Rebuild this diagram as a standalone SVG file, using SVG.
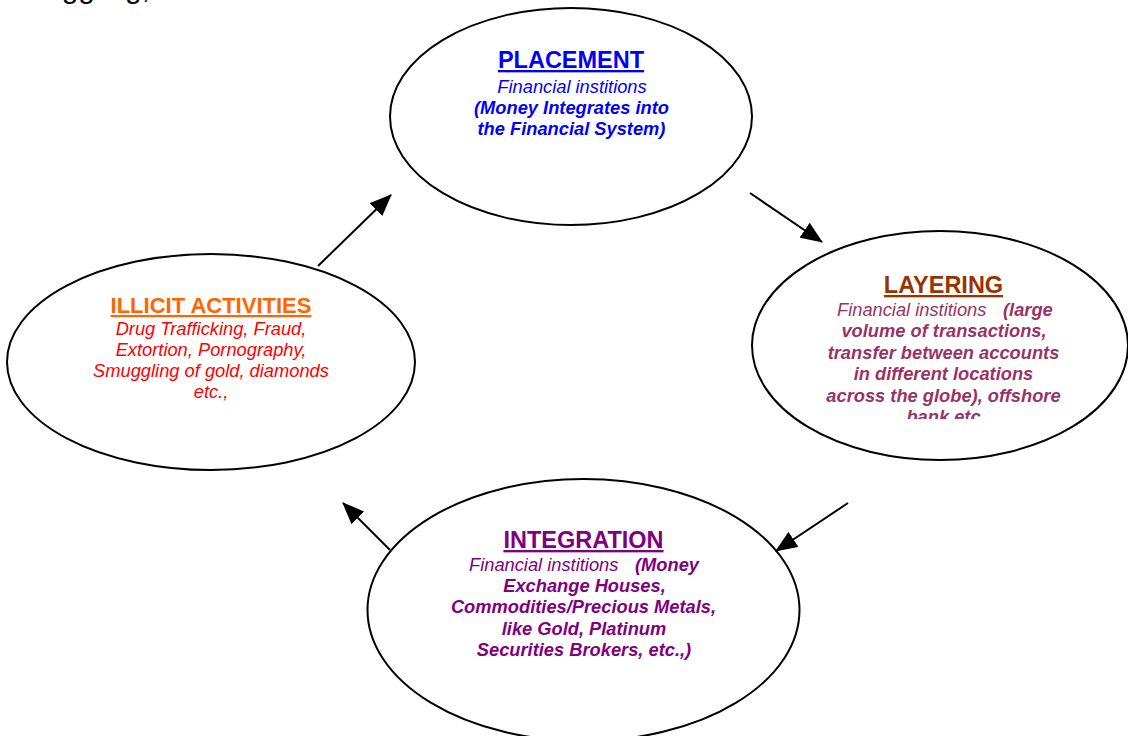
<svg xmlns="http://www.w3.org/2000/svg" width="1128" height="736" viewBox="0 0 1128 736">
<style>
  text { font-family: "Liberation Sans", Arial, sans-serif; }
  .node { fill: #ffffff; stroke: #000000; stroke-width: 2; }
  .title { font-size: 23.5px; font-weight: bold; text-decoration: underline; text-anchor: middle; }
  .body { font-size: 18.3px; font-style: italic; }
  .b { font-weight: bold; }
  .mid { text-anchor: middle; }
  .conn { stroke: #000000; stroke-width: 2; fill: none; marker-end: url(#arrow); }
</style>
<defs>
  <marker id="arrow" markerUnits="userSpaceOnUse" markerWidth="22" markerHeight="18" refX="21" refY="9" orient="auto">
    <path d="M0,0 L22,9 L0,18 Z" fill="#000000"/>
  </marker>
  <clipPath id="layerClip">
    <rect x="750" y="230" width="378" height="189"/>
  </clipPath>
</defs>
<rect x="0" y="0" width="1128" height="736" fill="#ffffff"/>
<text x="0" y="-2" style="font-size:30px">Smuggling,</text>

<g id="placement">
  <ellipse class="node" cx="571" cy="116.5" rx="181" ry="108.5"/>
  <text class="title" x="571" y="68" fill="#0000FF">PLACEMENT</text>
  <text class="body mid" x="572" y="93" fill="#0000FF">Financial institions</text>
  <text class="body b mid" x="571.5" y="114" fill="#0000FF">(Money Integrates into</text>
  <text class="body b mid" x="571.5" y="135" fill="#0000FF">the Financial System)</text>
</g>

<g id="layering">
  <ellipse class="node" cx="940" cy="345.5" rx="188" ry="114.5"/>
  <text class="title" x="943.5" y="293" fill="#993300">LAYERING</text>
  <g clip-path="url(#layerClip)" fill="#993366">
    <text class="body" x="837" y="316">Financial institions<tspan class="b" x="1003">(large</tspan></text>
    <text class="body b mid" x="944" y="337">volume of transactions,</text>
    <text class="body b mid" x="943.5" y="359">transfer between accounts</text>
    <text class="body b mid" x="943.5" y="380">in different locations</text>
    <text class="body b mid" x="943.5" y="402">across the globe), offshore</text>
    <text class="body b mid" x="943.5" y="423">bank etc</text>
  </g>
</g>

<g id="illicit">
  <ellipse class="node" cx="211" cy="362" rx="204" ry="108"/>
  <text class="title" x="211" y="313" fill="#FF6600" style="font-size:22px">ILLICIT ACTIVITIES</text>
  <text class="body mid" x="211" y="335" fill="#FF0000">Drug Trafficking, Fraud,</text>
  <text class="body mid" x="211" y="356" fill="#FF0000">Extortion, Pornography,</text>
  <text class="body mid" x="211" y="377" fill="#FF0000">Smuggling of gold, diamonds</text>
  <text class="body mid" x="211" y="398" fill="#FF0000">etc.,</text>
</g>

<g id="integration">
  <ellipse class="node" cx="583.5" cy="610" rx="216" ry="131"/>
  <text class="title" x="583.5" y="548" fill="#800080">INTEGRATION</text>
  <text class="body" x="469" y="571" fill="#800080">Financial institions<tspan class="b" x="635">(Money</tspan></text>
  <text class="body b mid" x="584.5" y="592" fill="#800080">Exchange Houses,</text>
  <text class="body b mid" x="583.5" y="613" fill="#800080">Commodities/Precious Metals,</text>
  <text class="body b mid" x="584" y="635" fill="#800080">like Gold, Platinum</text>
  <text class="body b mid" x="584" y="656" fill="#800080">Securities Brokers, etc.,)</text>
</g>

<g id="connectors">
  <line class="conn" x1="318" y1="266" x2="391" y2="195"/>
  <line class="conn" x1="750" y1="193" x2="822" y2="242"/>
  <line class="conn" x1="848" y1="503" x2="776" y2="551"/>
  <line class="conn" x1="390" y1="550" x2="343" y2="503"/>
</g>
</svg>
